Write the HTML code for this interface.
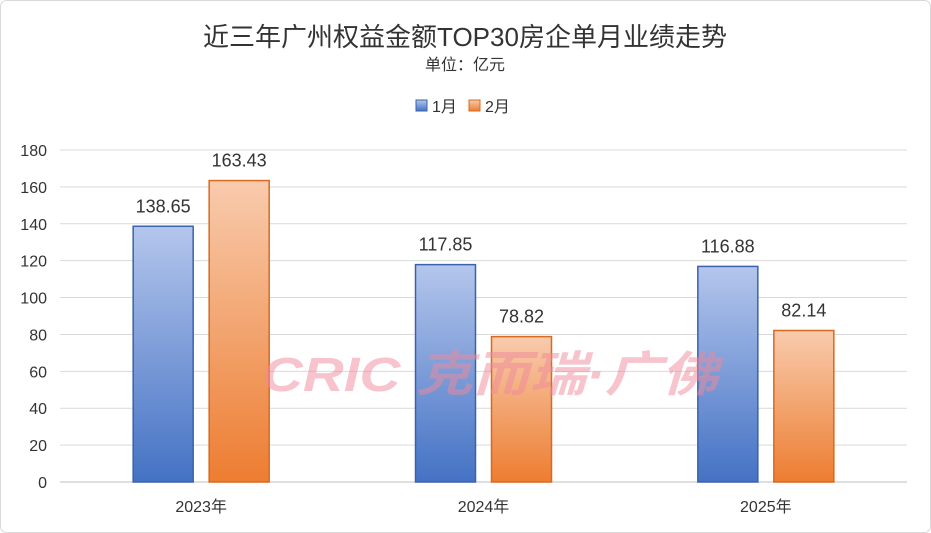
<!DOCTYPE html>
<html><head><meta charset="utf-8"><style>
body{margin:0;background:#fff;}
svg{display:block;font-family:"Liberation Sans","Noto Sans CJK SC",sans-serif;}
</style></head><body>
<svg id="c" width="931" height="533" viewBox="0 0 931 533">
<defs>
<linearGradient id="gb" x1="0" y1="0" x2="0" y2="1"><stop offset="0" stop-color="#b4c6ec"/><stop offset="1" stop-color="#4472c4"/></linearGradient>
<linearGradient id="go" x1="0" y1="0" x2="0" y2="1"><stop offset="0" stop-color="#f8cbad"/><stop offset="1" stop-color="#ed7d31"/></linearGradient>
</defs>
<rect x="0.5" y="0.5" width="930" height="532" rx="6" fill="#fff" stroke="#d9d9d9"/>
<text x="465" y="46" text-anchor="middle" font-size="26" fill="#333">近三年广州权益金额TOP30房企单月业绩走势</text>
<text x="465" y="70" text-anchor="middle" font-size="16" fill="#333">单位：亿元</text>
<g>
<rect x="416" y="100" width="11" height="11" fill="url(#gb)" stroke="#3a62ac"/>
<text x="432" y="112" font-size="16" fill="#333">1月</text>
<rect x="469" y="100" width="11" height="11" fill="url(#go)" stroke="#d8691f"/>
<text x="485" y="112" font-size="16" fill="#333">2月</text>
</g>
<g id="grid"></g>
<g id="bars"></g>
<text x="262" y="391" textLength="456" lengthAdjust="spacingAndGlyphs" font-size="48" font-weight="bold" font-style="italic" fill="#f08a9c" opacity="0.5">CRIC 克而瑞·广佛</text>
</svg>
<script>
const categories=["2023年","2024年","2025年"];
const jan=[138.65,117.85,116.88];
const feb=[163.43,78.82,82.14];
const yTicks=[0,20,40,60,80,100,120,140,160,180];
const ns="http://www.w3.org/2000/svg";
const y0=482,y1=150,vmax=180,x0=60,x1=907;
const y=v=>y0-(v/vmax)*(y0-y1);
const band=(x1-x0)/categories.length;
const cx=i=>x0+band*(i+0.5);
function mk(t,a,p){const e=document.createElementNS(ns,t);for(const k in a)e.setAttribute(k,a[k]);p.appendChild(e);return e;}
const g=document.getElementById('grid'),b=document.getElementById('bars');
yTicks.forEach(t=>{
 const l=mk('line',{x1:x0,x2:x1,y1:y(t),y2:y(t),stroke:t===0?'#bfbfbf':'#d9d9d9'},g);
 
 
 const tx=mk('text',{x:47,y:y(t)+6,'text-anchor':'end','font-size':16,fill:'#333'},g);
 tx.textContent=t;
 
 
});
categories.forEach((c,i)=>{
 const tx=mk('text',{x:cx(i),y:512,'text-anchor':'middle','font-size':16,fill:'#333'},g);
 tx.textContent=c;
 
 
 [[jan,'url(#gb)','#3a62ac',-38,'jan'],[feb,'url(#go)','#d8691f',38,'feb']].forEach(([s,f,st,off,n])=>{
  const v=s[i],w=60,x=cx(i)+off-w/2;
  const r=mk('rect',{x:x,y:y(v),width:w,height:y0-y(v),fill:f,stroke:st,'stroke-width':1.5},b);
  
  
  const lb=mk('text',{x:cx(i)+off,y:y(v)-14,'text-anchor':'middle','font-size':18,fill:'#333'},b);
  lb.textContent=v.toFixed(2);
  
  
 });
});
</script>
</body></html>
